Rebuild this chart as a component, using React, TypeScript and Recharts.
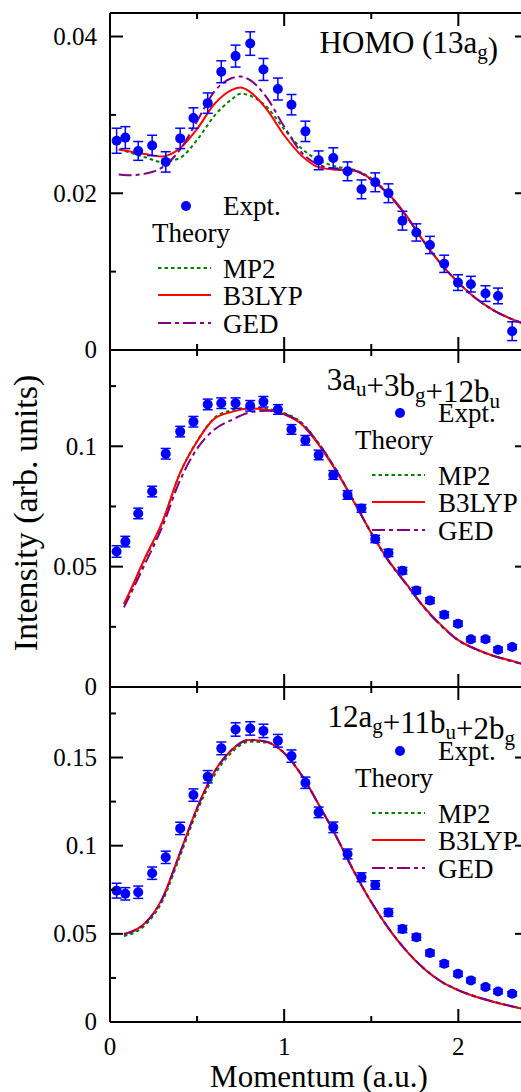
import React from 'react';
import { ComposedChart, Line, Scatter, ErrorBar, XAxis, YAxis } from 'recharts';

const FONT = "'Liberation Serif', 'Times New Roman', Times, serif";
const BLUE = '#0000ff';
const GREEN = '#008000';
const RED = '#ff0000';
const PURPLE = '#800080';

// momentum of the measured points (a.u.), same for all three panels
const exptX = [
  0.038, 0.088, 0.162, 0.242, 0.32, 0.403, 0.479, 0.561, 0.639, 0.721,
  0.805, 0.881, 0.964, 1.042, 1.122, 1.198, 1.282, 1.364, 1.444, 1.523,
  1.599, 1.679, 1.759, 1.837, 1.919, 1.998, 2.072, 2.156, 2.228, 2.309,
];

// HOMO (13ag)
const homoExpt = [
  0.0267, 0.0271, 0.0254, 0.0261, 0.024, 0.027, 0.0296, 0.0315, 0.0355, 0.0375,
  0.0391, 0.0358, 0.0333, 0.0313, 0.0279, 0.0242, 0.0245, 0.0228, 0.0205, 0.0214,
  0.02, 0.0165, 0.015, 0.0134, 0.011, 0.0086, 0.0084, 0.0072, 0.0069, 0.0024,
];
const homoErr = [
  0.0016, 0.0014, 0.0012, 0.0013, 0.0013, 0.0013, 0.0013, 0.0013, 0.0014, 0.0014,
  0.0015, 0.0014, 0.0014, 0.0013, 0.0013, 0.0012, 0.0013, 0.0012, 0.0012, 0.0012,
  0.0012, 0.0012, 0.0011, 0.0011, 0.0011, 0.001, 0.001, 0.001, 0.001, 0.0012,
];
const homoTheoryX = [
  0.05, 0.1, 0.2, 0.3, 0.4, 0.5, 0.6, 0.7, 0.75, 0.8, 0.9, 1.0, 1.1, 1.2, 1.3,
  1.4, 1.5, 1.6, 1.7, 1.8, 1.9, 2.0, 2.1, 2.2, 2.3, 2.4,
];
const homoMP2 = [
  0.0256, 0.0253, 0.0246, 0.024, 0.0245, 0.0268, 0.0299, 0.032, 0.0327, 0.0325,
  0.031, 0.0282, 0.0257, 0.0242, 0.0234, 0.023, 0.0219, 0.0199, 0.0171, 0.0139,
  0.011, 0.0086, 0.0066, 0.0051, 0.004, 0.0032,
];
const homoB3LYP = [
  0.0256, 0.0254, 0.025, 0.0247, 0.0257, 0.0282, 0.0314, 0.0332, 0.0335, 0.033,
  0.0307, 0.0274, 0.0248, 0.0233, 0.023, 0.0229, 0.0218, 0.0199, 0.0172, 0.0139,
  0.011, 0.0086, 0.0066, 0.0051, 0.004, 0.0032,
];
const homoGED = [
  0.0224, 0.0223, 0.0225, 0.0233, 0.0255, 0.0292, 0.033, 0.0347, 0.0349, 0.0345,
  0.0322, 0.0285, 0.0252, 0.0236, 0.0231, 0.0229, 0.0217, 0.0198, 0.0171, 0.0139,
  0.011, 0.0086, 0.0066, 0.0051, 0.004, 0.0032,
];

// 3au+3bg+12bu and 12ag+11bu+2bg share the same theory grid
const lowTheoryX = [
  0.08, 0.1, 0.2, 0.3, 0.4, 0.5, 0.6, 0.7, 0.8, 0.9, 1.0, 1.1, 1.2, 1.3,
  1.4, 1.5, 1.6, 1.7, 1.8, 1.9, 2.0, 2.1, 2.2, 2.3, 2.4,
];

const midExpt = [
  0.0563, 0.0604, 0.0721, 0.0812, 0.0969, 0.1061, 0.1102, 0.1174, 0.1179, 0.1179,
  0.1168, 0.1185, 0.1153, 0.107, 0.1025, 0.0964, 0.0881, 0.0798, 0.0742, 0.0615,
  0.0557, 0.0483, 0.0401, 0.0359, 0.03, 0.0263, 0.0198, 0.0198, 0.0155, 0.0166,
];
const midErr = [
  0.0024, 0.0022, 0.0022, 0.0022, 0.0022, 0.0022, 0.0022, 0.0022, 0.0022, 0.0022,
  0.0022, 0.0022, 0.002, 0.002, 0.002, 0.002, 0.0018, 0.0018, 0.0016, 0.0015,
  0.0015, 0.0014, 0.0013, 0.0012, 0.0012, 0.0011, 0.001, 0.001, 0.001, 0.001,
];
const midMP2 = [
  0.0345, 0.0372, 0.053, 0.0682, 0.0885, 0.1022, 0.1118, 0.115, 0.116, 0.1155,
  0.1138, 0.1098, 0.101, 0.09, 0.0772, 0.064, 0.0525, 0.043, 0.0335, 0.0258,
  0.0195, 0.0158, 0.013, 0.011, 0.009,
];
const midB3LYP = [
  0.0345, 0.0375, 0.0535, 0.0685, 0.0885, 0.102, 0.1115, 0.1143, 0.1157, 0.1152,
  0.1133, 0.1092, 0.1005, 0.0895, 0.077, 0.064, 0.0525, 0.043, 0.0335, 0.0258,
  0.0195, 0.0158, 0.013, 0.011, 0.009,
];
const midGED = [
  0.0331, 0.036, 0.051, 0.0665, 0.0855, 0.099, 0.107, 0.111, 0.114, 0.1148,
  0.1135, 0.1095, 0.101, 0.09, 0.0772, 0.064, 0.0522, 0.0428, 0.0332, 0.0255,
  0.0193, 0.0157, 0.013, 0.0108, 0.0089,
];

const lowExpt = [
  0.0745, 0.0727, 0.0736, 0.0844, 0.0934, 0.1098, 0.1287, 0.1391, 0.1552, 0.1659,
  0.1665, 0.1651, 0.1595, 0.1508, 0.1357, 0.1189, 0.1104, 0.0953, 0.0821, 0.0777,
  0.0621, 0.0527, 0.0481, 0.0391, 0.033, 0.0273, 0.0236, 0.0198, 0.0173, 0.016,
];
const lowErr = [
  0.0042, 0.0035, 0.0035, 0.0035, 0.0035, 0.0035, 0.0035, 0.0035, 0.0036, 0.0038,
  0.0038, 0.0038, 0.0036, 0.0035, 0.0032, 0.003, 0.003, 0.0028, 0.0025, 0.0024,
  0.0022, 0.002, 0.0018, 0.0016, 0.0015, 0.0014, 0.0013, 0.0012, 0.0012, 0.0012,
];
const lowMP2 = [
  0.0488, 0.0493, 0.0548, 0.0685, 0.0935, 0.1195, 0.14, 0.153, 0.159, 0.1585,
  0.1525, 0.14, 0.123, 0.105, 0.0855, 0.068, 0.053, 0.0405, 0.0305, 0.023,
  0.018, 0.0143, 0.0115, 0.009, 0.0068,
];
const lowB3LYP = [
  0.05, 0.0505, 0.056, 0.07, 0.0955, 0.1215, 0.142, 0.1545, 0.16, 0.1588,
  0.1525, 0.14, 0.123, 0.105, 0.0855, 0.068, 0.053, 0.0405, 0.0305, 0.023,
  0.018, 0.0143, 0.0115, 0.009, 0.0068,
];
const lowGED = [
  0.0498, 0.0503, 0.0558, 0.0698, 0.0952, 0.1212, 0.1418, 0.1544, 0.16, 0.1589,
  0.1526, 0.1401, 0.1231, 0.1051, 0.0856, 0.0681, 0.0531, 0.0406, 0.0306, 0.0231,
  0.0181, 0.0144, 0.0116, 0.0091, 0.0069,
];

const xTicks = [0, 0.5, 1, 1.5, 2];
const xMajor = [0, 1, 2];

const pts = (xs: number[], ys: number[], errs?: number[]) =>
  xs.map((x, i) => ({ x, y: ys[i], err: errs ? errs[i] : 0 }));

const near = (v: number, list: number[]) => list.some((m) => Math.abs(m - v) < 1e-9);

const MAJOR = 13;
const MINOR = 6;
const serif = { fontFamily: FONT };

interface PanelProps {
  top: number;
  height: number;
  topPad: number;
  bottomAxis: number;
  yMax: number;
  yTicks: number[];
  yMajor: number[];
  expt: number[];
  err: number[];
  theoryX: number[];
  mp2: number[];
  b3lyp: number[];
  ged: number[];
  xLabels?: boolean;
}

function Panel(p: PanelProps) {
  const leftTick = (t: any) => {
    const major = near(t.payload.value, p.yMajor);
    return (
      <g>
        <line x1={t.x} y1={t.y} x2={t.x + (major ? MAJOR : MINOR)} y2={t.y} stroke="#000" strokeWidth={2} />
        {major && (
          <text x={t.x - 13} y={t.y} dy="0.33em" textAnchor="end" style={serif} fontSize={25} fill="#000">
            {String(t.payload.value)}
          </text>
        )}
      </g>
    );
  };
  const rightTick = (t: any) => {
    const major = near(t.payload.value, p.yMajor);
    return <line x1={t.x} y1={t.y} x2={t.x - (major ? MAJOR : MINOR)} y2={t.y} stroke="#000" strokeWidth={2} />;
  };
  const bottomTick = (t: any) => {
    const major = near(t.payload.value, xMajor);
    return (
      <g>
        <line x1={t.x} y1={t.y} x2={t.x} y2={t.y - (major ? MAJOR : MINOR)} stroke="#000" strokeWidth={2} />
        {p.xLabels && major && (
          <text x={t.x} y={t.y + 33} textAnchor="middle" style={serif} fontSize={25} fill="#000">
            {String(t.payload.value)}
          </text>
        )}
      </g>
    );
  };
  const topTick = (t: any) => {
    const major = near(t.payload.value, xMajor);
    return <line x1={t.x} y1={t.y} x2={t.x} y2={t.y + (major ? MAJOR : MINOR)} stroke="#000" strokeWidth={2} />;
  };

  const axisLine = { stroke: '#000', strokeWidth: 2 };

  return (
    <div style={{ position: 'absolute', left: 0, top: p.top }}>
      <ComposedChart width={540} height={p.height} margin={{ top: p.topPad, right: 0, bottom: 0, left: 0 }}>
        <XAxis
          dataKey="x"
          type="number"
          domain={[0, 2.4]}
          ticks={xTicks}
          allowDataOverflow
          height={p.bottomAxis}
          tickSize={0}
          tickMargin={0}
          axisLine={axisLine}
          tick={bottomTick}
        />
        <XAxis
          xAxisId="top"
          orientation="top"
          dataKey="x"
          type="number"
          domain={[0, 2.4]}
          ticks={xTicks}
          allowDataOverflow
          height={10}
          tickSize={0}
          tickMargin={0}
          axisLine={axisLine}
          tick={topTick}
        />
        <YAxis
          type="number"
          domain={[0, p.yMax]}
          ticks={p.yTicks}
          allowDataOverflow
          width={110}
          tickSize={0}
          tickMargin={0}
          axisLine={axisLine}
          tick={leftTick}
        />
        <YAxis
          yAxisId="right"
          orientation="right"
          type="number"
          domain={[0, p.yMax]}
          ticks={p.yTicks}
          allowDataOverflow
          width={12}
          tickSize={0}
          tickMargin={0}
          axisLine={axisLine}
          tick={rightTick}
        />
        <Line
          data={pts(p.theoryX, p.mp2)}
          dataKey="y"
          type="monotone"
          stroke={GREEN}
          strokeWidth={2}
          strokeDasharray="3.5 3"
          dot={false}
          isAnimationActive={false}
        />
        <Line
          data={pts(p.theoryX, p.b3lyp)}
          dataKey="y"
          type="monotone"
          stroke={RED}
          strokeWidth={2}
          dot={false}
          isAnimationActive={false}
        />
        <Line
          data={pts(p.theoryX, p.ged)}
          dataKey="y"
          type="monotone"
          stroke={PURPLE}
          strokeWidth={2}
          strokeDasharray="13 4 4 4"
          dot={false}
          isAnimationActive={false}
        />
        <Scatter
          data={pts(exptX, p.expt, p.err)}
          dataKey="y"
          fill={BLUE}
          isAnimationActive={false}
          shape={(s: any) => <circle cx={s.cx} cy={s.cy} r={5} fill={BLUE} />}
        >
          <ErrorBar dataKey="err" direction="y" width={5} stroke={BLUE} strokeWidth={1.5} isAnimationActive={false} />
        </Scatter>
      </ComposedChart>
    </div>
  );
}

function Legend({ x0, lineX, textX, y }: { x0: number; lineX: number; textX: number; y: number }) {
  const t = { style: serif, fontSize: 27, fill: '#000' };
  return (
    <g>
      <circle cx={lineX + 28} cy={y} r={5} fill={BLUE} />
      <text x={textX} y={y + 9} {...t}>Expt.</text>
      <text x={x0} y={y + 36} {...t}>Theory</text>
      <line x1={lineX} y1={y + 62} x2={lineX + 53} y2={y + 62} stroke={GREEN} strokeWidth={2} strokeDasharray="3.5 3" />
      <text x={textX} y={y + 72} {...t}>MP2</text>
      <line x1={lineX} y1={y + 89} x2={lineX + 53} y2={y + 89} stroke={RED} strokeWidth={2} />
      <text x={textX} y={y + 99} {...t}>B3LYP</text>
      <line x1={lineX} y1={y + 117} x2={lineX + 53} y2={y + 117} stroke={PURPLE} strokeWidth={2} strokeDasharray="13 4 4 4" />
      <text x={textX} y={y + 127} {...t}>GED</text>
    </g>
  );
}

function Sub({ children }: { children: string }) {
  return (
    <>
      <tspan fontSize={21} dy={6}>{children}</tspan>
      <tspan dy={-6}></tspan>
    </>
  );
}

export default function App() {
  const title = { style: serif, fontSize: 31, fill: '#000', textAnchor: 'end' as const };
  return (
    <div style={{ position: 'absolute', left: 0, top: 0, width: 521, height: 1092, overflow: 'hidden', background: '#fff', fontFamily: FONT }}>
      <Panel
        top={0}
        height={360}
        topPad={3}
        bottomAxis={10}
        yMax={0.043}
        yTicks={[0, 0.01, 0.02, 0.03, 0.04]}
        yMajor={[0, 0.02, 0.04]}
        expt={homoExpt}
        err={homoErr}
        theoryX={homoTheoryX}
        mp2={homoMP2}
        b3lyp={homoB3LYP}
        ged={homoGED}
      />
      <Panel
        top={340}
        height={357}
        topPad={0}
        bottomAxis={10}
        yMax={0.14}
        yTicks={[0, 0.025, 0.05, 0.075, 0.1, 0.125]}
        yMajor={[0, 0.05, 0.1]}
        expt={midExpt}
        err={midErr}
        theoryX={lowTheoryX}
        mp2={midMP2}
        b3lyp={midB3LYP}
        ged={midGED}
      />
      <Panel
        top={677}
        height={415}
        topPad={0}
        bottomAxis={70}
        yMax={0.19}
        yTicks={[0, 0.025, 0.05, 0.075, 0.1, 0.125, 0.15, 0.175]}
        yMajor={[0, 0.05, 0.1, 0.15]}
        expt={lowExpt}
        err={lowErr}
        theoryX={lowTheoryX}
        mp2={lowMP2}
        b3lyp={lowB3LYP}
        ged={lowGED}
        xLabels
      />
      <svg width={521} height={1092} style={{ position: 'absolute', left: 0, top: 0, pointerEvents: 'none' }}>
        <text x={498} y={53} {...title}>
          HOMO (13a<Sub>g</Sub>)
        </text>
        <text x={500} y={390} {...title}>
          3a<Sub>u</Sub>+3b<Sub>g</Sub>+12b<Sub>u</Sub>
        </text>
        <text x={515} y={727} {...title}>
          12a<Sub>g</Sub>+11b<Sub>u</Sub>+2b<Sub>g</Sub>
        </text>

        <Legend x0={152} lineX={158} textX={223} y={206} />
        <Legend x0={355} lineX={372} textX={438} y={413} />
        <Legend x0={355} lineX={372} textX={438} y={751} />

        <text
          transform="translate(37,513) rotate(-90)"
          textAnchor="middle"
          style={serif}
          fontSize={34}
          fill="#000"
        >
          Intensity (arb. units)
        </text>
        <text x={319} y={1087} textAnchor="middle" style={serif} fontSize={31} fill="#000">
          Momentum (a.u.)
        </text>
      </svg>
    </div>
  );
}
